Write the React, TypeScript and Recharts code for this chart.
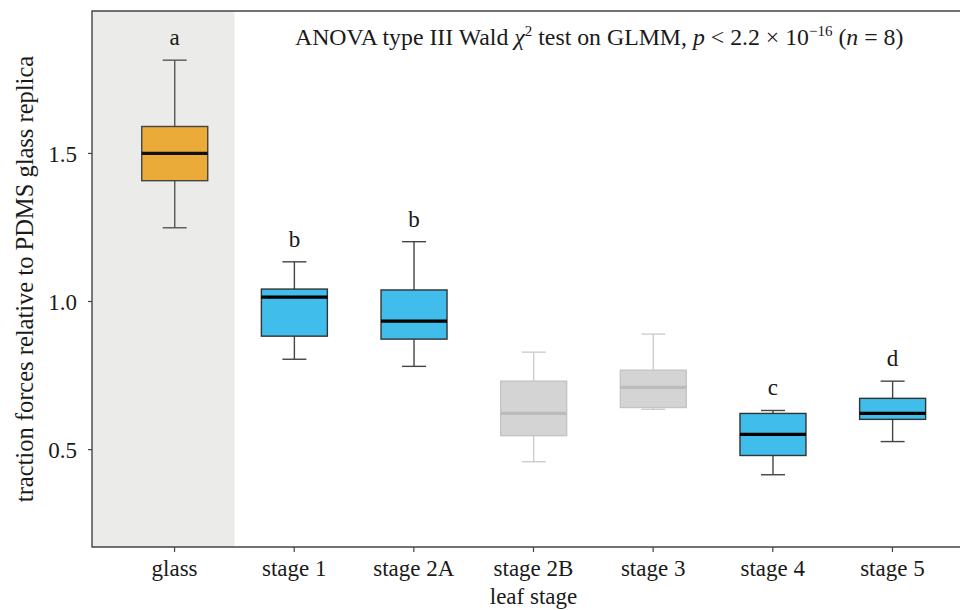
import React from 'react';
import {
  ComposedChart,
  Bar,
  XAxis,
  YAxis,
  ReferenceArea,
  LabelList,
  Label
} from 'recharts';

const categories = ['glass', 'stage 1', 'stage 2A', 'stage 2B', 'stage 3', 'stage 4', 'stage 5'];
const whiskerLow = [1.249, 0.805, 0.781, 0.459, 0.636, 0.415, 0.527];
const quartile1 = [1.408, 0.883, 0.873, 0.547, 0.642, 0.48, 0.602];
const medians = [1.5, 1.015, 0.934, 0.622, 0.71, 0.551, 0.622];
const quartile3 = [1.591, 1.042, 1.039, 0.731, 0.768, 0.622, 0.673];
const whiskerHigh = [1.815, 1.134, 1.202, 0.829, 0.89, 0.632, 0.731];
const letters = ['a', 'b', 'b', '', '', 'c', 'd'];
const groups = ['control', 'test', 'test', 'faded', 'faded', 'test', 'test'];
const yTicks = [0.5, 1.0, 1.5];

const FONT = '"Liberation Serif", "DejaVu Serif", serif';

const palette: Record<string, { fill: string; stroke: string; median: string; whisker: string }> = {
  control: { fill: '#ebab39', stroke: '#444', median: '#111', whisker: '#555' },
  test: { fill: '#40bdeb', stroke: '#333', median: '#000', whisker: '#444' },
  faded: { fill: '#d4d4d4', stroke: '#c4c4c4', median: '#bcbcbc', whisker: '#cdcdcd' }
};

const data = categories.map((name, i) => ({
  x: i,
  name,
  range: [whiskerLow[i], whiskerHigh[i]],
  low: whiskerLow[i],
  q1: quartile1[i],
  median: medians[i],
  q3: quartile3[i],
  high: whiskerHigh[i],
  letter: letters[i],
  group: groups[i]
}));

const BoxShape = (props: any) => {
  const { x, y, width, height, payload } = props;
  if (!payload) return null;
  const top = Math.min(y, y + height);
  const bottom = Math.max(y, y + height);
  const span = payload.high - payload.low;
  const py = (v: number) => top + ((payload.high - v) / span) * (bottom - top);
  const c = palette[payload.group];
  const cx = x + width / 2;
  const cap = 12;
  const q3y = py(payload.q3);
  const q1y = py(payload.q1);
  return (
    <g>
      <line x1={cx} x2={cx} y1={top} y2={q3y} stroke={c.whisker} strokeWidth={1.4} />
      <line x1={cx} x2={cx} y1={q1y} y2={bottom} stroke={c.whisker} strokeWidth={1.4} />
      <line x1={cx - cap} x2={cx + cap} y1={top} y2={top} stroke={c.whisker} strokeWidth={1.4} />
      <line x1={cx - cap} x2={cx + cap} y1={bottom} y2={bottom} stroke={c.whisker} strokeWidth={1.4} />
      <rect x={x} y={q3y} width={width} height={q1y - q3y} fill={c.fill} stroke={c.stroke} strokeWidth={1.4} />
      <line x1={x} x2={x + width} y1={py(payload.median)} y2={py(payload.median)} stroke={c.median} strokeWidth={3.2} />
    </g>
  );
};

export default function App() {
  return (
    <div style={{ position: 'absolute', left: 0, top: 0, width: 960, height: 610, overflow: 'hidden', background: '#fff' }}>
      <ComposedChart
        width={990}
        height={610}
        data={data}
        margin={{ top: 11, right: 15, bottom: 0, left: 0 }}
      >
        <ReferenceArea x1={-0.69} x2={0.5} y1={0.171} y2={1.981} fill="#ebebea" fillOpacity={1} stroke="none" ifOverflow="visible" />
        <XAxis
          dataKey="x"
          type="number"
          domain={[-0.69, 6.69]}
          ticks={[0, 1, 2, 3, 4, 5, 6]}
          tickFormatter={(v: number) => categories[v]}
          allowDataOverflow
          axisLine={false}
          tickLine={{ stroke: '#444', strokeWidth: 1.2 }}
          tickSize={5}
          tickMargin={8}
          height={63}
          tick={{ fill: '#1a1a1a', fontSize: 23, fontFamily: FONT }}
        >
          <Label value="leaf stage" position="insideBottom" offset={6} style={{ fill: '#1a1a1a', fontSize: 23, fontFamily: FONT }} />
        </XAxis>
        <YAxis
          type="number"
          domain={[0.171, 1.981]}
          ticks={yTicks}
          tickFormatter={(v: number) => v.toFixed(1)}
          allowDataOverflow
          width={92}
          axisLine={false}
          tickLine={{ stroke: '#444', strokeWidth: 1.2 }}
          tickSize={4}
          tickMargin={11}
          tick={{ fill: '#1a1a1a', fontSize: 23, fontFamily: FONT }}
        >
          <Label
            value="traction forces relative to PDMS glass replica"
            angle={-90}
            position="insideLeft"
            offset={24}
            style={{ textAnchor: 'middle', fill: '#1a1a1a', fontSize: 24.5, fontFamily: FONT }}
          />
        </YAxis>
        <Bar dataKey="range" barSize={66} shape={<BoxShape />} isAnimationActive={false}>
          <LabelList dataKey="letter" position="top" offset={15} style={{ fill: '#1a1a1a', fontSize: 23, fontFamily: FONT }} />
        </Bar>
        <ReferenceArea x1={-0.69} x2={6.69} y1={0.171} y2={1.981} fill="none" stroke="#444" strokeWidth={1.4} ifOverflow="visible" />
      </ComposedChart>
      <div
        style={{
          position: 'absolute',
          left: 295,
          top: 25,
          fontFamily: FONT,
          fontSize: 23.8,
          color: '#1a1a1a',
          whiteSpace: 'nowrap',
          lineHeight: '24px'
        }}
      >
        ANOVA type III Wald <i>χ</i>
        <sup style={{ fontSize: 15, lineHeight: 0 }}>2</sup> test on GLMM, <i>p</i> &lt; 2.2 × 10
        <sup style={{ fontSize: 15, lineHeight: 0 }}>−16</sup> (<i>n</i> = 8)
      </div>
    </div>
  );
}
